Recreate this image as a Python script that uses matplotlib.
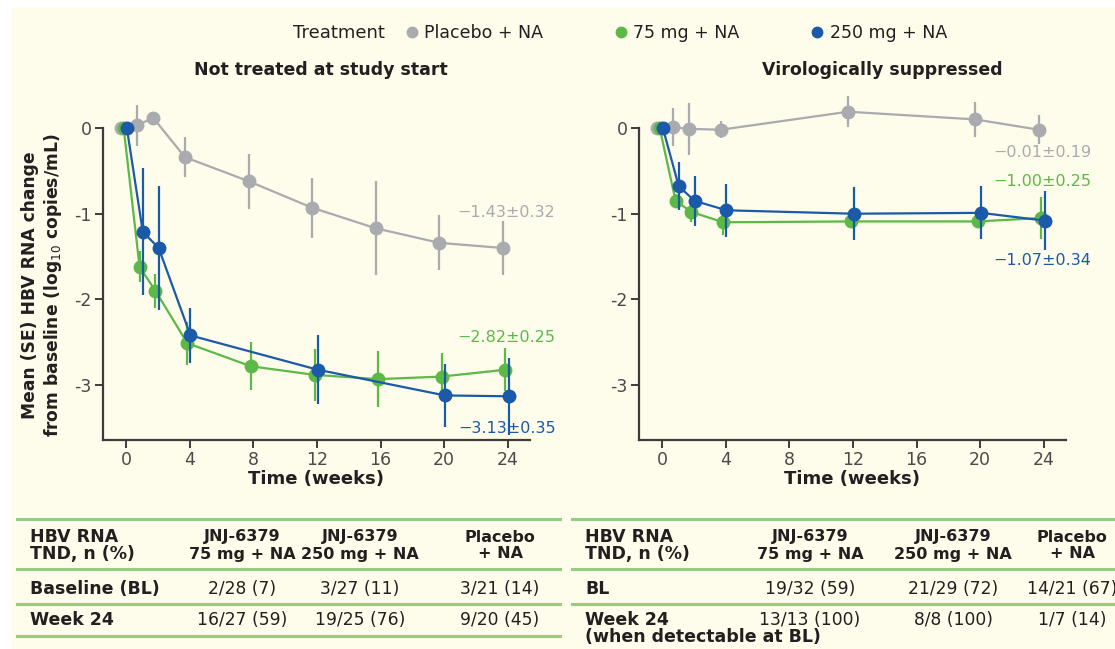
import matplotlib
matplotlib.use("Agg")
import matplotlib.pyplot as plt
from matplotlib.lines import Line2D
from matplotlib.patches import Rectangle

plt.rcParams["font.family"] = "DejaVu Sans"

# --- data ---
groups = ["Placebo + NA", "75 mg + NA", "250 mg + NA"]

# not treated at study start
naive_pbo_wk = [0, 1, 2, 4, 8, 12, 16, 20, 24]
naive_pbo = [0, 0.03, 0.12, -0.34, -0.62, -0.93, -1.17, -1.34, -1.40]
naive_pbo_se = [0, 0.24, 0.05, 0.23, 0.32, 0.35, 0.55, 0.32, 0.32]
naive_75_wk = [0, 1, 2, 4, 8, 12, 16, 20, 24]
naive_75 = [0, -1.62, -1.90, -2.51, -2.78, -2.88, -2.93, -2.90, -2.82]
naive_75_se = [0, 0.18, 0.20, 0.25, 0.28, 0.30, 0.33, 0.28, 0.25]
naive_250_wk = [0, 1, 2, 4, 12, 20, 24]
naive_250 = [0, -1.21, -1.40, -2.42, -2.82, -3.12, -3.13]
naive_250_se = [0, 0.74, 0.72, 0.32, 0.40, 0.37, 0.45]

# virologically suppressed
supp_pbo_wk = [0, 1, 2, 4, 12, 20, 24]
supp_pbo = [0, 0.01, -0.01, -0.02, 0.19, 0.10, -0.02]
supp_pbo_se = [0, 0.22, 0.30, 0.10, 0.18, 0.20, 0.17]
supp_75_wk = [0, 1, 2, 4, 12, 20, 24]
supp_75 = [0, -0.85, -0.98, -1.10, -1.09, -1.09, -1.05]
supp_75_se = [0, 0.08, 0.12, 0.15, 0.08, 0.08, 0.25]
supp_250_wk = [0, 1, 2, 4, 12, 20, 24]
supp_250 = [0, -0.68, -0.85, -0.96, -1.00, -0.99, -1.08]
supp_250_se = [0, 0.28, 0.29, 0.31, 0.31, 0.31, 0.34]

naive_end_labels = ["\u22121.43\u00b10.32", "\u22122.82\u00b10.25", "\u22123.13\u00b10.35"]
naive_end_y = [-0.98, -2.44, -3.50]
supp_end_labels = ["\u22120.01\u00b10.19", "\u22121.00\u00b10.25", "\u22121.07\u00b10.34"]
supp_end_y = [-0.29, -0.62, -1.54]

x_ticks = [0, 4, 8, 12, 16, 20, 24]
y_ticks = [0, -1, -2, -3]
y_ticklabels = ["0", "-1", "-2", "-3"]

tbl_head = "HBV RNA\nTND, n (%)"
tbl_cols = ["JNJ-6379\n75 mg + NA", "JNJ-6379\n250 mg + NA", "Placebo\n+ NA"]
naive_rows = [["Baseline (BL)", "2/28 (7)", "3/27 (11)", "3/21 (14)"],
              ["Week 24", "16/27 (59)", "19/25 (76)", "9/20 (45)"]]
supp_rows = [["BL", "19/32 (59)", "21/29 (72)", "14/21 (67)"],
             ["Week 24\n(when detectable at BL)", "13/13 (100)", "8/8 (100)", "1/7 (14)"]]

# --- style ---
colors = ["#A9ABAE", "#5CB947", "#1B5AA8"]
dodge = [-0.3, -0.15, 0.05]
ink = "#231F20"
axis_col = "#3C3C3C"
cream = "#FEFCEA"
table_line = "#93CC83"

W, H = 1115, 649


def fx(px):
    return px / W


def fy(py):
    return 1 - py / H


fig = plt.figure(figsize=(11.15, 6.49), dpi=100, facecolor="white")
fig.patches.append(Rectangle((fx(12), 0), 1, fy(7), transform=fig.transFigure,
                             facecolor=cream, edgecolor="none", zorder=-10))

ylo, yhi = -3.64, 0.40
xlo, xhi = -1.45, 25.4
ax_bottom = fy(440)
ax_h = fy(128 - yhi * 85.7) - ax_bottom
ax1 = fig.add_axes([fx(103), ax_bottom, fx(427), ax_h])
ax2 = fig.add_axes([fx(639), ax_bottom, fx(427), ax_h])

panels = [
    (ax1, [(naive_pbo_wk, naive_pbo, naive_pbo_se), (naive_75_wk, naive_75, naive_75_se),
           (naive_250_wk, naive_250, naive_250_se)], naive_end_labels, naive_end_y),
    (ax2, [(supp_pbo_wk, supp_pbo, supp_pbo_se), (supp_75_wk, supp_75, supp_75_se),
           (supp_250_wk, supp_250, supp_250_se)], supp_end_labels, supp_end_y),
]

for ax, series, end_labels, end_y in panels:
    ax.set_facecolor("none")
    for i, (wk, y, se) in enumerate(series):
        x = [w + dodge[i] for w in wk]
        ax.errorbar(x, y, yerr=se, fmt="-o", color=colors[i], ms=9, lw=1.6,
                    elinewidth=1.6, capsize=0, zorder=2 + i)
        ax.text(27.0, end_y[i], end_labels[i], color=colors[i], ha="right",
                va="center", fontsize=11.5, clip_on=False)
    ax.set_xlim(xlo, xhi)
    ax.set_ylim(ylo, yhi)
    ax.set_xticks(x_ticks)
    ax.set_yticks(y_ticks)
    ax.set_yticklabels(y_ticklabels)
    for s in ["top", "right"]:
        ax.spines[s].set_visible(False)
    for s in ["left", "bottom"]:
        ax.spines[s].set_color(axis_col)
        ax.spines[s].set_linewidth(1.6)
    ax.spines["left"].set_bounds(ylo, 0)
    ax.tick_params(axis="both", colors=axis_col, labelcolor="#4A4A4A",
                   labelsize=12.5, width=1.4, length=6, pad=2)
    ax.set_xlabel("Time (weeks)", fontsize=13, fontweight="bold", color=ink, labelpad=1)

ax1.set_ylabel("Mean (SE) HBV RNA change\nfrom baseline (log$_{10}$ copies/mL)",
               fontsize=12.3, fontweight="bold", color=ink, linespacing=1.15)
ax1.yaxis.set_label_coords(-0.092, 0.448)

fig.text(fx(321), fy(70), "Not treated at study start", ha="center", va="center",
         fontsize=12.5, fontweight="bold", color=ink)
fig.text(fx(882), fy(70), "Virologically suppressed", ha="center", va="center",
         fontsize=12.5, fontweight="bold", color=ink)

# legend
fig.text(fx(293), fy(33), "Treatment", ha="left", va="center", fontsize=13, color=ink)
handles = [Line2D([], [], marker="o", ls="", color=c, ms=7.5) for c in colors]
fig.legend(handles, groups, loc="center left", bbox_to_anchor=(fx(389), fy(33)),
           ncol=3, frameon=False, fontsize=12.5, handlelength=0.8, handletextpad=0.3,
           columnspacing=4.1, labelcolor=ink)


# tables
def draw_table(x0, x1, label_x, col_x, rows, bottom_line):
    for yl in [519, 569, 604] + ([636] if bottom_line else []):
        fig.add_artist(Line2D([fx(x0), fx(x1)], [fy(yl), fy(yl)], color=table_line, lw=2.2))
    for k, line in enumerate(tbl_head.split("\n")):
        fig.text(fx(label_x), fy(537 + 17 * k), line, ha="left", va="center",
                 fontsize=12.5, fontweight="bold", color=ink)
    for cx, head in zip(col_x, tbl_cols):
        for k, line in enumerate(head.split("\n")):
            fig.text(fx(cx), fy(537 + 17 * k), line, ha="center", va="center",
                     fontsize=11.5, fontweight="bold", color=ink)
    for ry, row in zip([589, 620], rows):
        for k, line in enumerate(row[0].split("\n")):
            fig.text(fx(label_x), fy(ry + 17 * k), line, ha="left", va="center",
                     fontsize=12.5, fontweight="bold", color=ink)
        for cx, val in zip(col_x, row[1:]):
            fig.text(fx(cx), fy(ry), val, ha="center", va="center", fontsize=12.3, color=ink)


draw_table(17, 560, 30, [242, 360, 500], naive_rows, True)
draw_table(572, 1115, 585, [810, 953, 1072], supp_rows, False)

fig.savefig("out.png", dpi=100, facecolor=fig.get_facecolor())
